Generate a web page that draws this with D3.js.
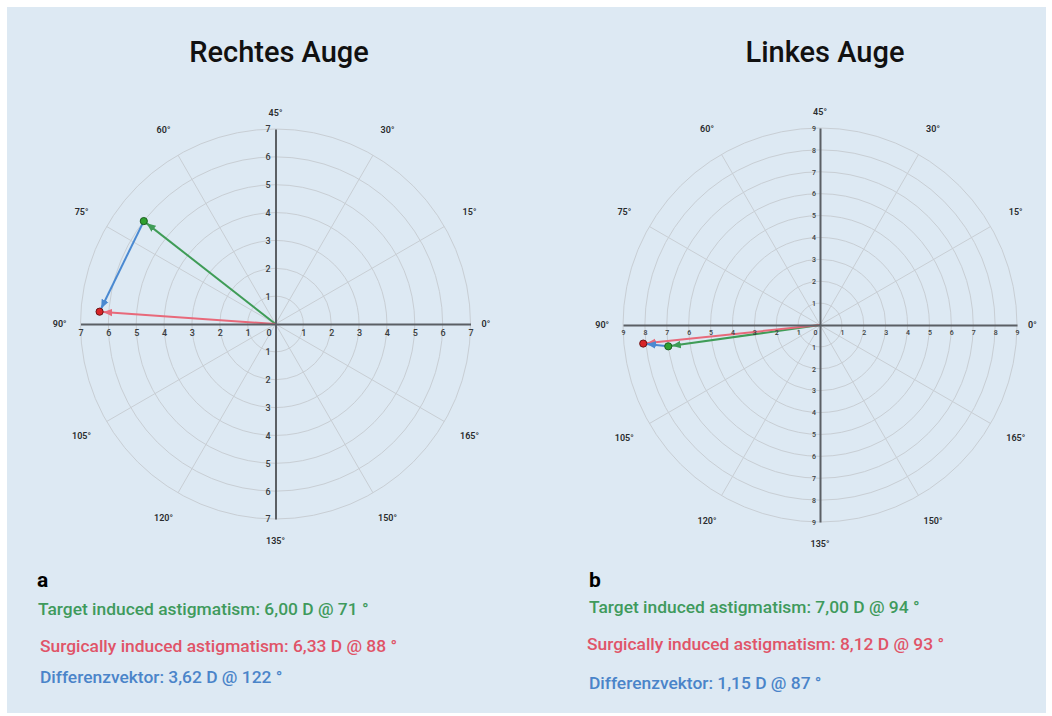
<!DOCTYPE html>
<html>
<head>
<meta charset="utf-8">
<script src="https://cdn.jsdelivr.net/npm/d3@7"></script>
<style>
  html, body { margin: 0; padding: 0; background: #ffffff; }
  svg { display: block; }
  text { font-family: Roboto, "Noto Sans", sans-serif; }
</style>
</head>
<body>
<svg id="chart" width="1052" height="716"></svg>
<script>
// Eye panels: titles, panel letters and radial scale maxima (dioptres)
const panelTitles = ["Rechtes Auge", "Linkes Auge"];
const panelLetters = ["a", "b"];
const scaleMax = [7, 9];

// Astigmatism vectors per eye: magnitude (D) and axis (degrees)
const targetMag = [6.00, 7.00];
const targetAxis = [71, 94];
const siaMag = [6.33, 8.12];
const siaAxis = [88, 93];
const diffMag = [3.62, 1.15];
const diffAxis = [122, 87];

// Axis labels around the double-angle plot
const axisAngles = [0, 15, 30, 45, 60, 75, 90, 105, 120, 135, 150, 165];

const fmt = v => v.toFixed(2).replace(".", ",");

const colors = {
  target: "#3f9c57",
  sia: "#e8697a",
  diff: "#4a89d1",
  targetText: "#3f9a5c",
  siaText: "#e05468",
  diffText: "#4a84c9"
};

const layout = [
  { cx: 275.5, cy: 324, r: 195, titleX: 279, textX: [38, 40, 40], textY: [615, 652, 683], letterX: 37, tickSize: 9, zeroDx: -7 },
  { cx: 820, cy: 325, r: 197, titleX: 825, textX: [589, 587, 589], textY: [613, 650, 689], letterX: 589, tickSize: 7, zeroDx: -5 }
];

const svg = d3.select("#chart");

svg.append("rect")
  .attr("x", 7).attr("y", 7)
  .attr("width", 1039).attr("height", 706)
  .attr("fill", "#dde9f3");

// arrow markers
const defs = svg.append("defs");
[["target", colors.target], ["sia", colors.sia], ["diff", colors.diff]].forEach(([k, c]) => {
  defs.append("marker")
    .attr("id", "arrow-" + k)
    .attr("viewBox", "0 -5 10 10")
    .attr("refX", 14)
    .attr("refY", 0)
    .attr("markerUnits", "userSpaceOnUse")
    .attr("markerWidth", 9)
    .attr("markerHeight", 9)
    .attr("orient", "auto")
    .append("path")
    .attr("d", "M0,-4.2L10,0L0,4.2Z")
    .attr("fill", c);
});

panelTitles.forEach((title, i) => {
  const L = layout[i];
  const max = scaleMax[i];
  const g = svg.append("g");
  const rad = d3.scaleLinear().domain([0, max]).range([0, L.r]);

  // double-angle mapping: axis a -> polar angle 2a
  const toXY = (mag, axisDeg) => {
    const t = 2 * axisDeg * Math.PI / 180;
    return [rad(mag) * Math.cos(t), -rad(mag) * Math.sin(t)];
  };

  const plot = g.append("g").attr("transform", `translate(${L.cx},${L.cy})`);

  // rings
  plot.selectAll("circle.ring")
    .data(d3.range(1, max + 1))
    .join("circle")
    .attr("class", "ring")
    .attr("r", d => rad(d))
    .attr("fill", "none")
    .attr("stroke", "#c8ced4")
    .attr("stroke-width", 1);

  // spokes (every 15 degrees of axis except the main axes)
  plot.selectAll("line.spoke")
    .data(axisAngles.filter(a => a % 45 !== 0))
    .join("line")
    .attr("class", "spoke")
    .attr("x1", 0).attr("y1", 0)
    .attr("x2", d => toXY(max, d)[0])
    .attr("y2", d => toXY(max, d)[1])
    .attr("stroke", "#c8ced4")
    .attr("stroke-width", 1);

  // Cartesian axes with numeric ticks
  const xs = d3.scaleLinear().domain([-max, max]).range([L.cx - L.r, L.cx + L.r]);
  const ys = d3.scaleLinear().domain([max, -max]).range([L.cy - L.r, L.cy + L.r]);

  const xAxis = g.append("g")
    .attr("transform", `translate(0,${L.cy})`)
    .call(d3.axisBottom(xs).ticks(2 * max).tickSize(0).tickPadding(L.tickSize === 9 ? 6 : 5)
      .tickFormat(d => Math.abs(d)));
  const yAxis = g.append("g")
    .attr("transform", `translate(${L.cx},0)`)
    .call(d3.axisLeft(ys).ticks(2 * max).tickSize(0).tickPadding(L.tickSize === 9 ? 5 : 4)
      .tickFormat(d => d === 0 ? "" : Math.abs(d)));

  [xAxis, yAxis].forEach(ax => {
    ax.select(".domain").attr("stroke", "#5b5f64").attr("stroke-width", 2);
    ax.selectAll("text")
      .attr("font-size", L.tickSize)
      .attr("font-weight", 500)
      .attr("fill", "#3a3d40")
      .attr("font-family", "Roboto, sans-serif");
  });
  // zero label sits just left of the vertical axis
  xAxis.selectAll(".tick").filter(d => d === 0).select("text").attr("dx", L.zeroDx);

  // angle labels
  axisAngles.forEach(a => {
    const main = a % 45 === 0;
    const t = 2 * a * Math.PI / 180;
    const rr = L.r + (main ? 22 : 29);
    let x = L.cx + rr * Math.cos(t);
    let y = L.cy - rr * Math.sin(t);
    let anchor = "middle";
    if (a === 0) { x = L.cx + L.r + 11; anchor = "start"; }
    if (a === 90) { x = L.cx - L.r - 14; anchor = "end"; }
    if (a === 45) { y = L.cy - L.r - 16; }
    if (a === 135) { y = L.cy + L.r + 22; }
    g.append("text")
      .attr("x", x).attr("y", y)
      .attr("dy", "0.35em")
      .attr("text-anchor", anchor)
      .attr("font-size", 9)
      .attr("font-weight", 600)
      .attr("fill", "#2a2c2e")
      .text(a + "°");
  });

  // vectors
  const tgt = toXY(targetMag[i], targetAxis[i]);
  const sia = toXY(siaMag[i], siaAxis[i]);
  const dv = toXY(diffMag[i], diffAxis[i]);
  const diffEnd = [tgt[0] + dv[0], tgt[1] + dv[1]];

  const vecs = [
    { k: "target", from: [0, 0], to: tgt },
    { k: "sia", from: [0, 0], to: sia },
    { k: "diff", from: tgt, to: diffEnd }
  ];
  plot.selectAll("line.vec")
    .data(vecs)
    .join("line")
    .attr("class", "vec")
    .attr("x1", d => d.from[0]).attr("y1", d => d.from[1])
    .attr("x2", d => d.to[0]).attr("y2", d => d.to[1])
    .attr("stroke", d => colors[d.k])
    .attr("stroke-width", 2)
    .attr("marker-end", d => `url(#arrow-${d.k})`);

  // endpoint dots
  plot.append("circle")
    .attr("cx", tgt[0]).attr("cy", tgt[1]).attr("r", 3.6)
    .attr("fill", "#2fa12f").attr("stroke", "#1d5e22").attr("stroke-width", 1);
  plot.append("circle")
    .attr("cx", sia[0]).attr("cy", sia[1]).attr("r", 3.6)
    .attr("fill", "#d82427").attr("stroke", "#6b1416").attr("stroke-width", 1);

  // title
  g.append("text")
    .attr("x", L.titleX).attr("y", 62)
    .attr("text-anchor", "middle")
    .attr("font-family", "Inter, Roboto, sans-serif")
    .attr("font-size", 29)
    .attr("font-weight", 500)
    .attr("fill", "#111")
    .text(title);

  // panel letter
  g.append("text")
    .attr("x", L.letterX).attr("y", 587)
    .attr("font-family", "\"Open Sans\", \"Noto Sans\", sans-serif")
    .attr("font-size", 21)
    .attr("font-weight", 700)
    .attr("fill", "#000")
    .text(panelLetters[i]);

  // description lines
  const lines = [
    { t: `Target induced astigmatism: ${fmt(targetMag[i])} D @ ${targetAxis[i]} °`, c: colors.targetText },
    { t: `Surgically induced astigmatism: ${fmt(siaMag[i])} D @ ${siaAxis[i]} °`, c: colors.siaText },
    { t: `Differenzvektor: ${fmt(diffMag[i])} D @ ${diffAxis[i]} °`, c: colors.diffText }
  ];
  lines.forEach((ln, j) => {
    g.append("text")
      .attr("x", L.textX[j]).attr("y", L.textY[j])
      .attr("font-size", 17.4)
      .attr("font-weight", 500)
      .attr("fill", ln.c)
      .text(ln.t);
  });
});
</script>
</body>
</html>
